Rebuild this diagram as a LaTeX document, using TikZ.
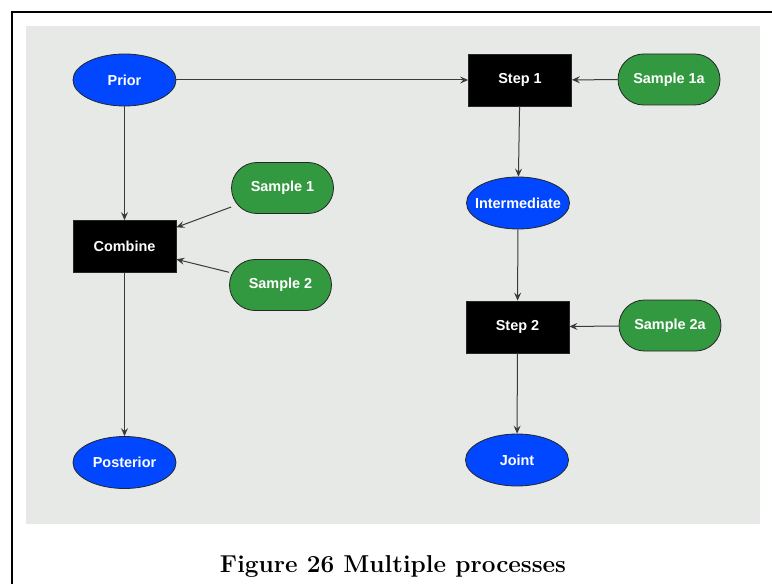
\documentclass[tikz,border=0pt]{standalone}
\usepackage{fontspec}
\newfontfamily\boxfont{Liberation Sans}
\usetikzlibrary{arrows.meta,shapes.geometric}
\usepackage{xcolor}
\definecolor{canvas}{HTML}{E6E9E6}
\definecolor{distblue}{HTML}{0047FF}
\definecolor{datagreen}{HTML}{339940}
\definecolor{wire}{HTML}{3A3A3A}

\begin{document}
\begin{tikzpicture}[x=1bp,y=-1bp,
    base node/.style={draw=black!85, line width=0.8bp, text=white, minimum width=103bp, minimum height=52bp, inner sep=0pt, font=\boxfont\bfseries\fontsize{14.5}{16}\selectfont},
    dist node/.style={base node, ellipse, fill=distblue, inner xsep=-16bp},
    proc node/.style={base node, rectangle, fill=black},
    data node/.style={base node, rectangle, rounded corners=25.5bp, fill=datagreen, minimum width=102bp, minimum height=51bp},
    link/.style={draw=wire, line width=1bp, -{Stealth[length=8bp,width=7bp,inset=3bp]}}]
\useasboundingbox (0,0) rectangle (772,584);
% frame and canvas
\fill[white] (0,0) rectangle (772,584);
\fill[canvas] (26,26) rectangle (760,524);
\draw[line width=2bp] (11.5,584) -- (11.5,12) -- (772,12);
% left branch
\node[dist node] (prior) at (124.5,80) {Prior};
\node[proc node] (combine) at (124.5,246.5) {Combine};
\node[data node] (sample1) at (282.5,188) {Sample 1};
\node[data node] (sample2) at (280.5,285) {Sample 2};
\node[dist node] (posterior) at (124.5,462.5) {Posterior};
% right branch
\node[proc node] (step1) at (520,80) {Step 1};
\node[data node] (sample1a) at (669,79.5) {Sample 1a};
\node[dist node] (inter) at (518,203) {Intermediate};
\node[proc node] (step2) at (517.5,327) {Step 2};
\node[data node] (sample2a) at (670,325.5) {Sample 2a};
\node[dist node] (joint) at (517,460) {Joint};
% connections
\draw[link] (prior) -- (step1);
\draw[link] (prior) -- (combine);
\draw[link] (sample1) -- (combine);
\draw[link] (sample2) -- (combine);
\draw[link] (combine) -- (posterior);
\draw[link] (sample1a) -- (step1);
\draw[link] (step1) -- (inter);
\draw[link] (inter) -- (step2);
\draw[link] (sample2a) -- (step2);
\draw[link] (step2) -- (joint);
% caption
\node[anchor=base, inner sep=0pt, font=\fontsize{24.5}{28}\selectfont\bfseries] (caption) at (393,572.5) {Figure 26 Multiple processes};
\end{tikzpicture}
\end{document}
